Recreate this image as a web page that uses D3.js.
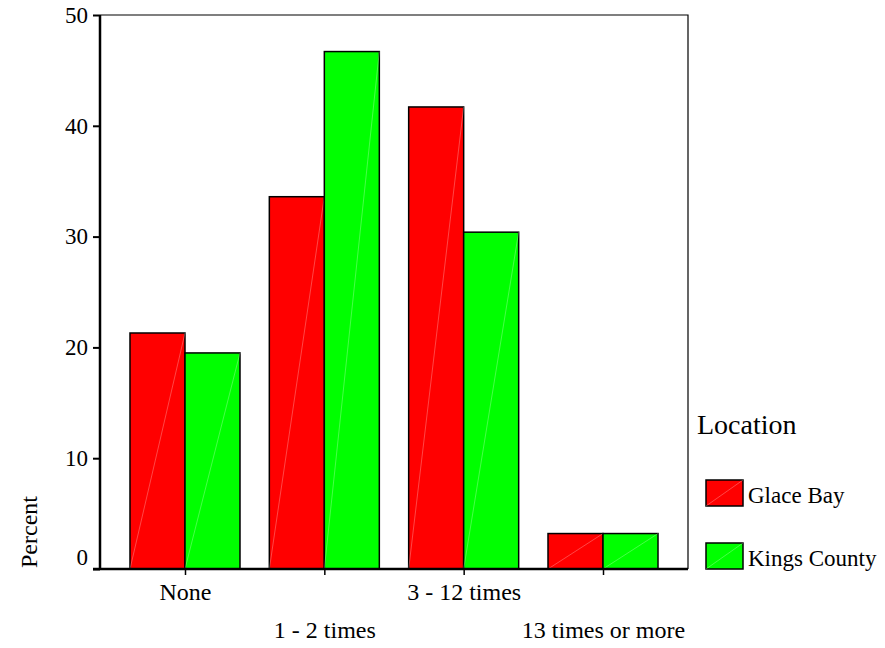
<!DOCTYPE html>
<html>
<head>
<meta charset="utf-8">
<script src="https://cdn.jsdelivr.net/npm/d3@7"></script>
<style>
  body { margin: 0; background: #fff; }
  svg, svg text { font-family: "Liberation Serif", "DejaVu Serif", serif; fill: #000; }
</style>
</head>
<body>
<svg width="885" height="648"></svg>
<script>
// Data
var categories = ["None", "1 - 2 times", "3 - 12 times", "13 times or more"];
var locations = ["Glace Bay", "Kings County"];
var glaceBay = [21.3, 33.6, 41.7, 3.2];
var kingsCounty = [19.5, 46.7, 30.4, 3.2];
var colors = ["#ff0000", "#00ff00"];
var yTicks = [0, 10, 20, 30, 40, 50];

var series = [glaceBay, kingsCounty];

var svg = d3.select("svg");
var plotL = 100, plotR = 688, plotT = 15, plotB = 569;

var x = d3.scalePoint().domain(categories).range([plotL, plotR]).padding(0.61);
var y = d3.scaleLinear().domain([0, 50]).range([plotB, plotT]);
var barW = 55;

// frame (top + right)
svg.append("path")
  .attr("d", "M" + plotL + "," + plotT + "H" + plotR + "V" + plotB)
  .attr("fill", "none").attr("stroke", "#000").attr("stroke-width", 1.2);

// bars
var rows = [];
categories.forEach(function(c, i) {
  series.forEach(function(s, j) {
    rows.push({ cat: c, loc: j, val: s[i] });
  });
});

var bar = svg.append("g").selectAll("g").data(rows).enter().append("g");
bar.append("rect")
  .attr("x", function(d) { return x(d.cat) + (d.loc - 1) * barW; })
  .attr("y", function(d) { return y(d.val); })
  .attr("width", barW)
  .attr("height", function(d) { return plotB - y(d.val); })
  .attr("fill", function(d) { return colors[d.loc]; })
  .attr("stroke", "#000").attr("stroke-width", 1.5);
bar.append("line")
  .attr("x1", function(d) { return x(d.cat) + (d.loc - 1) * barW; })
  .attr("y1", plotB)
  .attr("x2", function(d) { return x(d.cat) + d.loc * barW; })
  .attr("y2", function(d) { return y(d.val); })
  .attr("stroke", "#fff").attr("stroke-opacity", 0.35).attr("stroke-width", 0.8);

// y axis
var yAxis = svg.append("g")
  .attr("transform", "translate(" + plotL + ",0)")
  .call(d3.axisLeft(y).tickValues(yTicks).tickSize(7).tickPadding(5))
  .attr("font-family", null).attr("font-size", 23);
yAxis.select(".domain").attr("stroke-width", 2.5).attr("d", "M0," + plotT + "V" + (plotB + 1));
yAxis.selectAll(".tick line").attr("stroke-width", 2);
yAxis.selectAll("text")
  .attr("dy", function(d) { return d === 0 ? "-0.2em" : "0.32em"; });

// x axis
var xAxis = svg.append("g")
  .attr("transform", "translate(0," + plotB + ")")
  .call(d3.axisBottom(x).tickSize(6).tickPadding(4))
  .attr("font-family", null).attr("font-size", 24);
xAxis.select(".domain").attr("stroke-width", 2.5).attr("d", "M" + (plotL - 7) + ",0H" + plotR);
xAxis.selectAll(".tick line").attr("stroke-width", 1.5);
xAxis.selectAll("text")
  .attr("dy", 0)
  .attr("y", function(d, i) { return i % 2 === 0 ? 31 : 69; });

// y title
svg.append("text")
  .attr("transform", "translate(37,532) rotate(-90)")
  .attr("text-anchor", "middle")
  .attr("font-size", 24)
  .text("Percent");

// legend
svg.append("text").attr("x", 697).attr("y", 434).attr("font-size", 28).text("Location");
var leg = svg.append("g").selectAll("g").data(locations).enter().append("g")
  .attr("transform", function(d, i) { return "translate(706," + (480 + i * 63) + ")"; });
leg.append("rect").attr("width", 37).attr("height", 26)
  .attr("fill", function(d, i) { return colors[i]; })
  .attr("stroke", "#000").attr("stroke-width", 1.5);
leg.append("line").attr("x1", 0).attr("y1", 26).attr("x2", 37).attr("y2", 0)
  .attr("stroke", "#fff").attr("stroke-opacity", 0.35).attr("stroke-width", 0.8);
leg.append("text").attr("x", 42).attr("y", 23).attr("font-size", 23)
  .text(function(d) { return d; });
</script>
</body>
</html>
